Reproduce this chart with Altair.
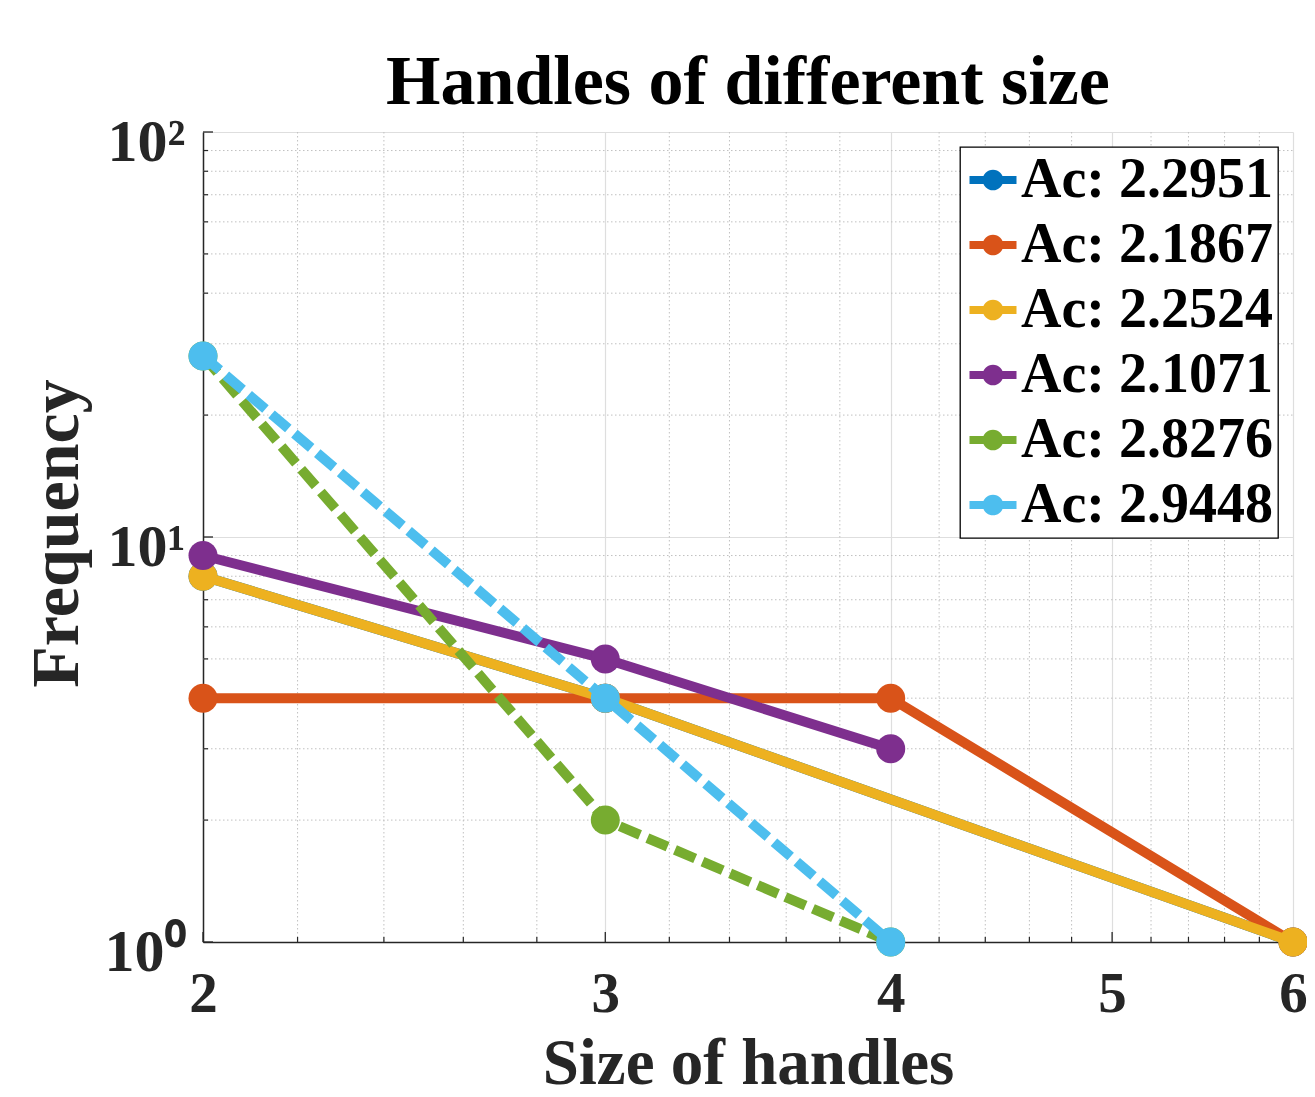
import altair as alt
import pandas as pd

FONT = "Liberation Serif"

series_names = ["Ac: 2.2951", "Ac: 2.1867", "Ac: 2.2524", "Ac: 2.1071", "Ac: 2.8276", "Ac: 2.9448"]
series_colors = ["#0072BD", "#D95319", "#EDB120", "#7E2F8E", "#77AC30", "#4DBEEE"]
series_dashed = [False, False, False, False, True, True]

sizes_s1 = [2, 3, 6]
freq_s1 = [8, 4, 1]
sizes_s2 = [2, 3, 4, 6]
freq_s2 = [4, 4, 4, 1]
sizes_s3 = [2, 3, 6]
freq_s3 = [8, 4, 1]
sizes_s4 = [2, 3, 4]
freq_s4 = [9, 5, 3]
sizes_s5 = [2, 3, 4]
freq_s5 = [28, 2, 1]
sizes_s6 = [2, 3, 4]
freq_s6 = [28, 4, 1]

all_sizes = [sizes_s1, sizes_s2, sizes_s3, sizes_s4, sizes_s5, sizes_s6]
all_freqs = [freq_s1, freq_s2, freq_s3, freq_s4, freq_s5, freq_s6]

x_major = [2, 3, 4, 5, 6]
x_minor = [2.2, 2.4, 2.6, 2.8, 3.2, 3.4, 3.6, 3.8, 4.2, 4.4, 4.6, 4.8, 5.2, 5.4, 5.6, 5.8]
y_major = [1, 10, 100]
y_minor = [2, 3, 4, 5, 6, 7, 8, 9, 20, 30, 40, 50, 60, 70, 80, 90]

W, H = 1090, 810
AXIS_COLOR = "#262626"

xs = alt.Scale(type="log", domain=[2, 6], nice=False)
ys = alt.Scale(type="log", domain=[1, 100], nice=False)
color_scale = alt.Scale(domain=series_names, range=series_colors)

x_axis = alt.Axis(
    values=x_major, title="Size of handles", grid=True, gridColor="#dedede", gridWidth=1.2,
    ticks=False, domainColor=AXIS_COLOR, domainWidth=1.5,
    labelFont=FONT, labelFontSize=57, labelFontWeight="bold", labelColor=AXIS_COLOR,
    labelPadding=24, labelFlush=False, labelOverlap=False, labelBaseline="top",
    titleFont=FONT, titleFontSize=65, titleFontWeight="bold", titleColor=AXIS_COLOR,
    titleX=545, titleY=141, titleBaseline="alphabetic", titleAlign="center",
)
y_axis = alt.Axis(
    values=y_major, title="Frequency", grid=True, gridColor="#dedede", gridWidth=1.2,
    ticks=False, domainColor=AXIS_COLOR, domainWidth=1.5,
    labelExpr="'10' + (datum.value == 1 ? '⁰' : datum.value == 10 ? '¹' : '²')",
    labelFont=FONT, labelFontSize=60, labelFontWeight="bold", labelColor=AXIS_COLOR,
    labelPadding=18, labelFlush=False, labelOverlap=False, labelOffset=10,
    titleFont=FONT, titleFontSize=68, titleFontWeight="bold", titleColor=AXIS_COLOR,
    titleX=-126, titleY=401, titleAngle=270, titleBaseline="alphabetic", titleAlign="center",
)

def X():
    return alt.X("size:Q", scale=xs, axis=x_axis)

def Y():
    return alt.Y("freq:Q", scale=ys, axis=y_axis)

layers = []

# minor grid
layers.append(
    alt.Chart(pd.DataFrame({"size": x_minor})).mark_rule(
        color="#c0c0c0", strokeWidth=1, strokeDash=[1.5, 2.5]
    ).encode(x=X(), y=alt.value(0), y2=alt.value(H))
)
layers.append(
    alt.Chart(pd.DataFrame({"freq": y_minor})).mark_rule(
        color="#c0c0c0", strokeWidth=1, strokeDash=[1.5, 2.5]
    ).encode(y=Y(), x=alt.value(0), x2=alt.value(W))
)
# inward ticks
layers.append(
    alt.Chart(pd.DataFrame({"size": x_major})).mark_rule(color=AXIS_COLOR, strokeWidth=1.3)
    .encode(x=X(), y=alt.value(H), y2=alt.value(H - 10))
)
layers.append(
    alt.Chart(pd.DataFrame({"size": x_minor})).mark_rule(color=AXIS_COLOR, strokeWidth=1.2)
    .encode(x=X(), y=alt.value(H), y2=alt.value(H - 5))
)
layers.append(
    alt.Chart(pd.DataFrame({"freq": y_major})).mark_rule(color=AXIS_COLOR, strokeWidth=1.3)
    .encode(y=Y(), x=alt.value(0), x2=alt.value(10))
)
layers.append(
    alt.Chart(pd.DataFrame({"freq": y_minor})).mark_rule(color=AXIS_COLOR, strokeWidth=1.2)
    .encode(y=Y(), x=alt.value(0), x2=alt.value(5))
)

LEGEND_PATH = ("M-1,-0.17 H1 V0.17 H-1 Z "
               "M0.44,0 A0.44,0.44 0 1,1 -0.44,0 A0.44,0.44 0 1,1 0.44,0 Z")

legend = alt.Legend(
    title=None, orient="none", legendX=757, legendY=15,
    symbolType=LEGEND_PATH, symbolSize=2209, symbolStrokeWidth=0, symbolOpacity=1,
    labelFont=FONT, labelFontSize=56, labelFontWeight="bold", labelColor="black",
    labelOffset=0, labelLimit=0, rowPadding=9,
)

for name, color, dashed, sx, fy in zip(series_names, series_colors, series_dashed, all_sizes, all_freqs):
    df = pd.DataFrame({"size": sx, "freq": fy, "series": [name] * len(sx)})
    line_kwargs = dict(color=color, strokeWidth=10, strokeJoin="round")
    if dashed:
        line_kwargs["strokeDash"] = [22, 8]
    layers.append(alt.Chart(df).mark_line(**line_kwargs).encode(x=X(), y=Y()))
    layers.append(
        alt.Chart(df).mark_point(filled=True, size=841, opacity=1, shape="circle", strokeWidth=0)
        .encode(x=X(), y=Y(), color=alt.Color("series:N", scale=color_scale, legend=legend))
    )

chart = alt.layer(*layers).properties(
    width=W, height=H,
    title=alt.TitleParams(
        "Handles of different size", font=FONT, fontSize=70, fontWeight="bold",
        color="black", anchor="middle", baseline="alphabetic", offset=30, dy=92,
    ),
    autosize=alt.AutoSizeParams(type="none"),
    padding={"left": 195, "top": 124, "right": 14, "bottom": 155},
    background="white",
).configure_view(stroke=None).configure_legend(
    strokeColor="black", fillColor="white", padding=5, cornerRadius=0, strokeWidth=1.3,
)

chart.save("out.html", embed_options={"renderer": "svg", "actions": False})
